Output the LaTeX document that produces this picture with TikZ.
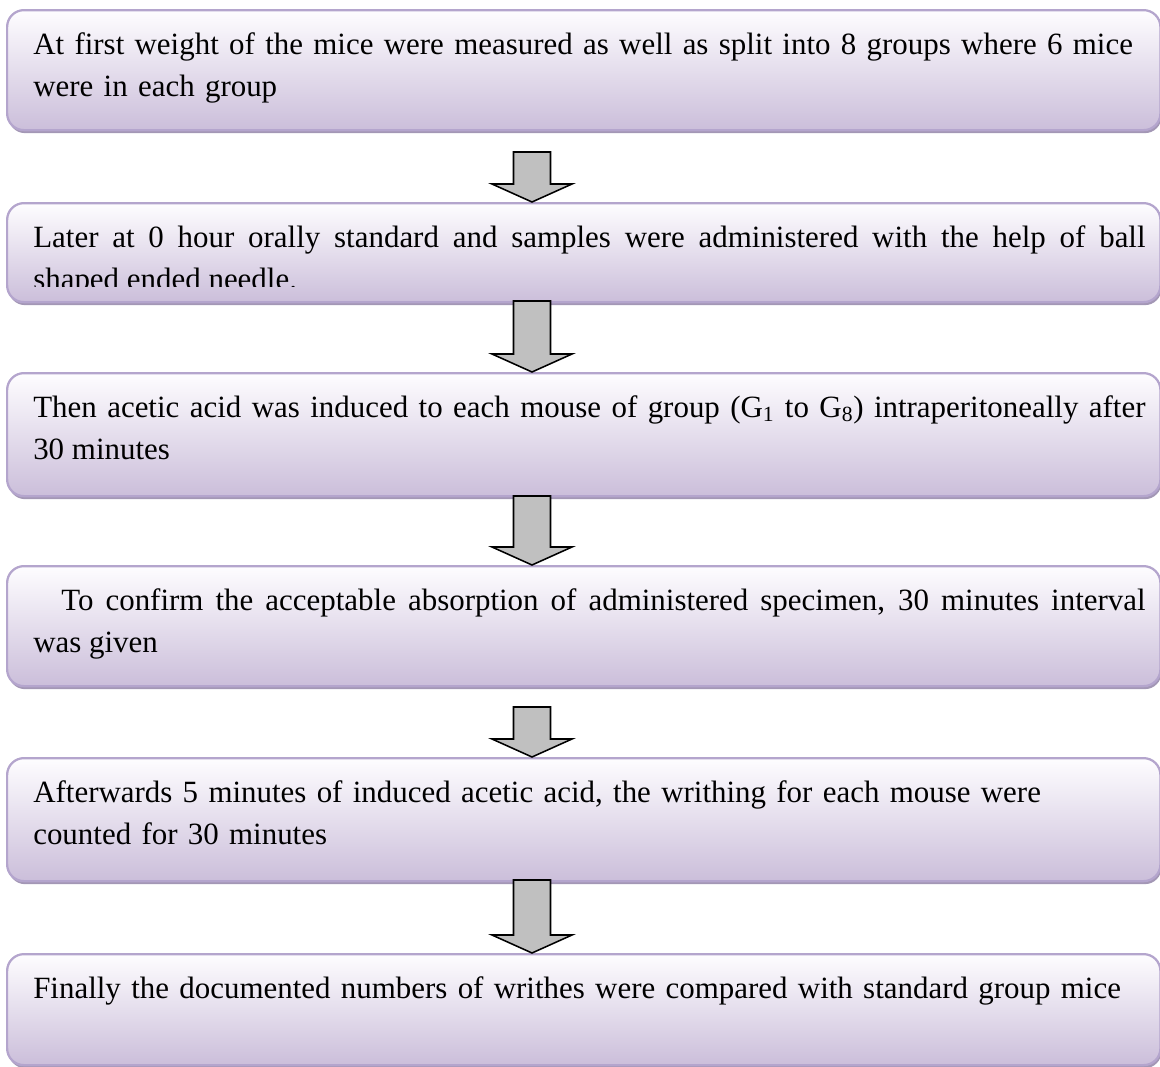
\documentclass[tikz,border=0pt]{standalone}
\usepackage{fontspec}
\setmainfont{Liberation Serif}
\usetikzlibrary{calc, shadows}
\definecolor{boxline}{RGB}{180,165,205}
\definecolor{boxtop}{RGB}{254,253,255}
\definecolor{boxbottom}{RGB}{203,190,218}
\definecolor{boxshadow}{RGB}{163,151,181}
\definecolor{arrowgray}{RGB}{192,192,192}
\tikzset{
	flowbox/.style = {
		rectangle, rounded corners=0.42cm, draw=boxline, line width=1.6pt,
		top color=boxtop, bottom color=boxbottom,
		minimum width=28.825cm, anchor=north west, inner sep=0pt,
		drop shadow={shadow xshift=0.03cm, shadow yshift=-0.075cm, fill=boxshadow, opacity=1}
	},
	boxtext/.style = {
		anchor=north west, inner sep=0pt, text width=27.8cm,
		font=\fontsize{22}{30}\selectfont
	},
	blockarrow/.style = {draw=black, line width=1.1pt, fill=arrowgray, line join=miter}
}
\newcommand{\blockdown}[2]{%
	\draw[blockarrow] let \p1 = (#1), \p2 = (#2.north -| #1) in
		(\x1-0.4625cm,\y1) -- (\x1+0.4625cm,\y1) -- (\x1+0.4625cm,\y2+0.45cm)
		-- (\x1+1cm,\y2+0.45cm) -- (\x2,\y2) -- (\x1-1cm,\y2+0.45cm)
		-- (\x1-0.4625cm,\y2+0.45cm) -- cycle;
}

\begin{document}
\begin{tikzpicture}[x=0.025cm, y=-0.025cm]
	\useasboundingbox (0,0) rectangle (1160,1067);
	\pgfmathsetmacro{\xArrow}{532}
	\pgfmathsetmacro{\xText}{33}
	
	% boxes
	\node [flowbox, minimum height=3cm] (b1) at (6,9) {};
	\node [flowbox, minimum height=2.475cm] (b2) at (6,202) {};
	\node [flowbox, minimum height=3.075cm] (b3) at (6,372) {};
	\node [flowbox, minimum height=3cm] (b4) at (6,565) {};
	\node [flowbox, minimum height=3.075cm] (b5) at (6,757) {};
	\node [flowbox, minimum height=2.775cm] (b6) at (6,953) {};
	
	% texts
	\node [boxtext, align=left] (t1) at (\xText,24.5) {\strut At first weight of the mice were measured as well as split into 8 groups where 6 mice\\ were in each group};
	\begin{scope}
		\clip (0,202) rectangle (1160,286);
		\node [boxtext, align=justify] (t2) at (\xText,217.5) {\strut Later at 0 hour orally standard and samples were administered with the help of ball\linebreak shaped ended needle.};
	\end{scope}
	\node [boxtext, align=justify] (t3) at (\xText,387.5) {\strut Then acetic acid was induced to each mouse of group (G\textsubscript{1} to G\textsubscript{8}) intraperitoneally after\linebreak 30 minutes};
	\node [boxtext, align=justify] (t4) at (\xText,580.5) {\strut\hspace*{0.7cm}To confirm the acceptable absorption of administered specimen, 30 minutes interval\linebreak was given};
	\node [boxtext, align=left] (t5) at (\xText,772.5) {\strut Afterwards 5 minutes of induced acetic acid, the writhing for each mouse were\\ counted for 30 minutes};
	\node [boxtext, align=left] (t6) at (\xText,968.5) {\strut Finally the documented numbers of writhes were compared with standard group mice};
	
	% arrows
	\coordinate (s1) at (\xArrow,152);
	\coordinate (s2) at (\xArrow,301);
	\coordinate (s3) at (\xArrow,496);
	\coordinate (s4) at (\xArrow,707);
	\coordinate (s5) at (\xArrow,880);
	\blockdown{s1}{b2}
	\blockdown{s2}{b3}
	\blockdown{s3}{b4}
	\blockdown{s4}{b5}
	\blockdown{s5}{b6}
\end{tikzpicture}
\end{document}
